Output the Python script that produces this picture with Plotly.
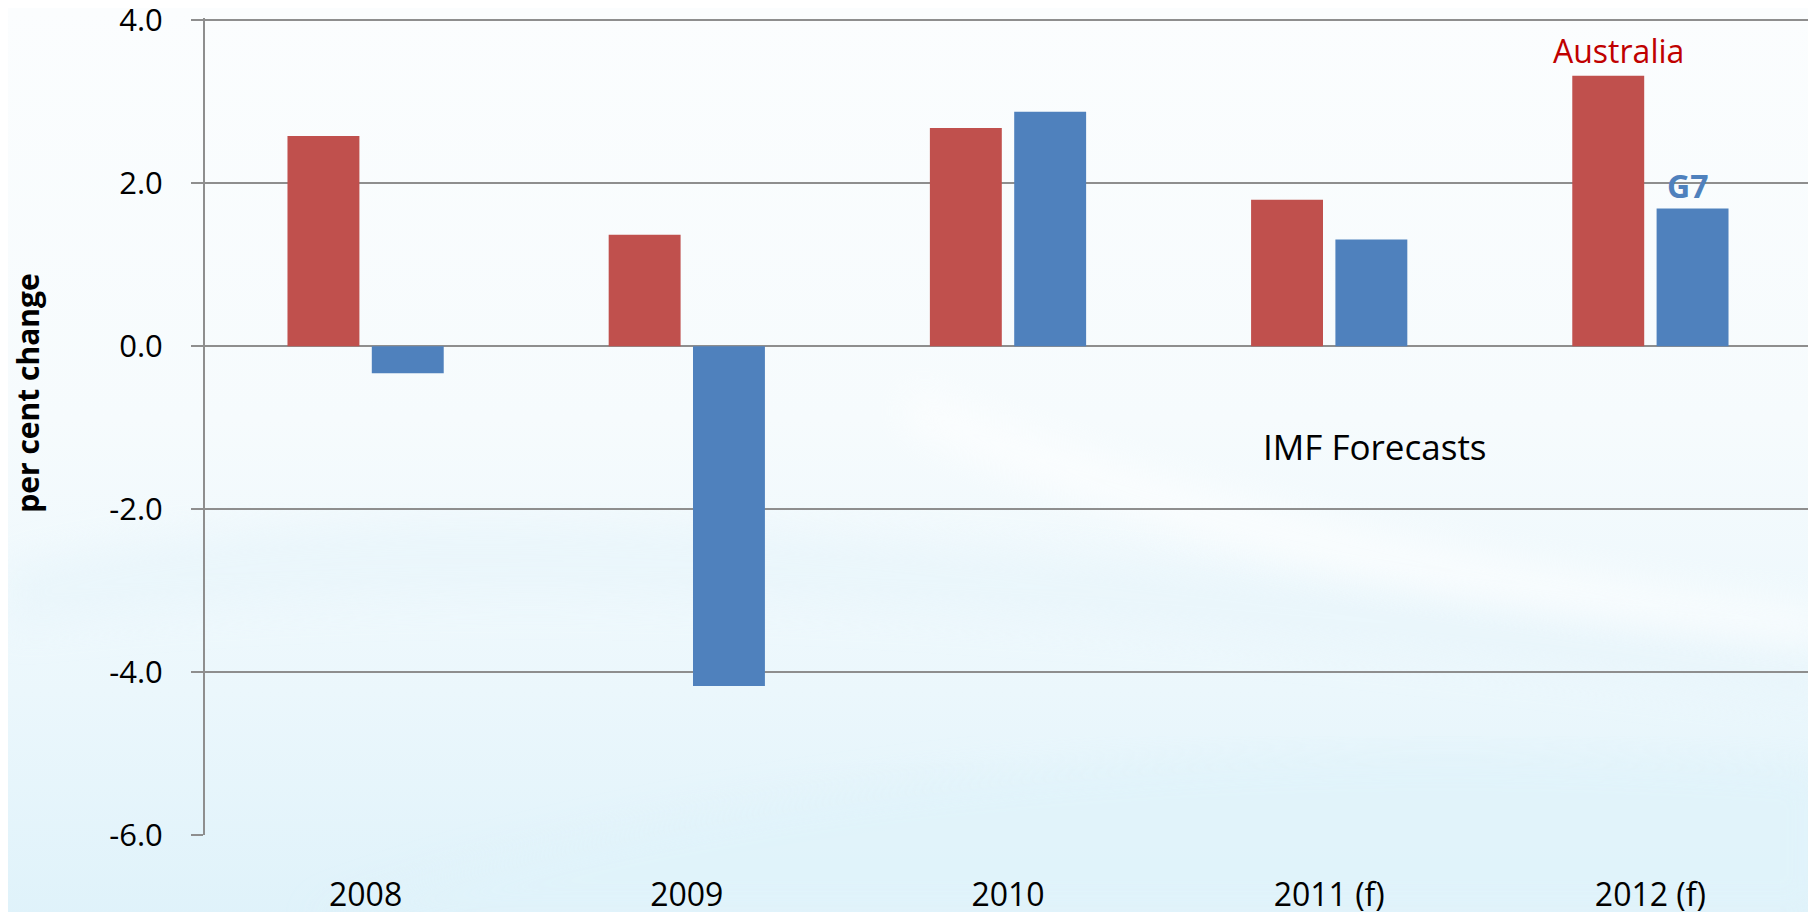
import plotly.graph_objects as go
import urllib.parse

# ---- data ----
years = ["2008", "2009", "2010", "2011 (f)", "2012 (f)"]
australia = [2.58, 1.37, 2.68, 1.80, 3.32]
g7 = [-0.33, -4.17, 2.88, 1.31, 1.69]
y_ticks = [-6, -4, -2, 0, 2, 4]
y_tick_text = ["-6.0", "-4.0", "-2.0", "0.0", "2.0", "4.0"]
y_range = [-6, 4.03]

RED = "#C0504D"
BLUE = "#4F81BD"
GRID = "#8E8E8E"
FONT = "Open Sans"

# page body has an 8px margin: compensate so that y=-6 sits at 835.5px,
# y=4 at 20.5px and the plot spans x 205..1811 of the screenshot
OFF = 8
PX_PER_UNIT = (835.5 - 20.5) / 10
plot_top = 835.5 - (y_range[1] - y_range[0]) * PX_PER_UNIT
L, R, T, B = 205 - OFF, 1816 + OFF - 1811, plot_top - OFF, 912 + OFF - 835.5
PW, PH = 1816 - L - R, 912 - T - B

fig = go.Figure()
fig.add_trace(go.Bar(x=years, y=australia, name="Australia",
                     marker=dict(color=RED, line=dict(width=0))))
fig.add_trace(go.Bar(x=years, y=g7, name="G7",
                     marker=dict(color=BLUE, line=dict(width=0))))

# soft light-blue background as SVG gradient
svg = """<svg xmlns='http://www.w3.org/2000/svg' width='1816' height='912' viewBox='0 0 1816 912'>
<defs>
<linearGradient id='g' x1='0' y1='0' x2='0' y2='1'>
<stop offset='0' stop-color='#FBFDFE'/>
<stop offset='0.45' stop-color='#F6FBFD'/>
<stop offset='0.75' stop-color='#EBF7FC'/>
<stop offset='1' stop-color='#DFF2FA'/>
</linearGradient>
<filter id='b'><feGaussianBlur stdDeviation='18'/></filter>
</defs>
<rect width='1816' height='912' fill='url(#g)'/>
<path d='M0 560 C 400 470, 900 520, 1816 640 L1816 700 C 1100 600, 500 560, 0 620 Z' fill='#E8F5FB' opacity='0.7' filter='url(#b)'/>
<path d='M300 912 C 700 760, 1300 720, 1816 760 L1816 912 Z' fill='#E0F3FA' opacity='0.8' filter='url(#b)'/>
<path d='M900 380 C 1200 500, 1500 560, 1816 600 L1816 640 C 1450 600, 1150 540, 900 420 Z' fill='#FFFFFF' opacity='0.6' filter='url(#b)'/>
</svg>"""
src = "data:image/svg+xml;charset=utf-8," + urllib.parse.quote(svg)

zero_pos = (0 - y_range[0]) / (y_range[1] - y_range[0])


def px(x):  # screenshot x pixel -> paper fraction
    return (x - 205) / PW


def py(y):  # screenshot y pixel -> paper fraction
    return (835.5 - y) / PH


fig.update_layout(
    width=1816, height=912,
    margin=dict(l=L, r=R, t=T, b=B, autoexpand=False),
    paper_bgcolor="#F7FBFD",
    plot_bgcolor="rgba(0,0,0,0)",
    showlegend=False,
    barmode="group",
    bargap=0.475,
    bargroupgap=0.147,
    font=dict(family=FONT, size=32, color="#000000"),
    images=[dict(source=src, xref="paper", yref="paper", x=-L / PW, y=1 + T / PH,
                 sizex=1816 / PW, sizey=912 / PH, xanchor="left", yanchor="top",
                 sizing="stretch", layer="below")],
    xaxis=dict(type="category", range=[-0.5, 4.5], showgrid=False, showline=False,
               zeroline=False, ticks="", ticklabelstandoff=38,
               tickfont=dict(family=FONT, size=32, color="#000")),
    xaxis2=dict(overlaying="x", type="linear", range=[-0.5, 4.5], anchor="free",
                position=zero_pos, side="bottom", showgrid=False, showline=False,
                zeroline=False, ticks="outside", ticklen=11, tickwidth=2, tickcolor=GRID,
                tickvals=[0.5, 1.5, 2.5, 3.5], showticklabels=False),
    yaxis=dict(range=y_range, tickvals=y_ticks, ticktext=y_tick_text,
               showgrid=True, gridcolor=GRID, gridwidth=2,
               zeroline=False, showline=True, linecolor=GRID, linewidth=2,
               ticks="outside", ticklen=12, tickwidth=2, tickcolor=GRID,
               ticklabelstandoff=22, ticklabeloverflow="allow",
               tickfont=dict(family=FONT, size=31, color="#000")),
    annotations=[
        dict(text="<b>per cent change</b>", textangle=-90, xref="paper", yref="paper",
             x=px(28), y=py(394), xanchor="center", yanchor="middle", showarrow=False,
             font=dict(family=FONT, size=30, color="#000")),
        dict(text="Australia", x=years[4], y=australia[4], xref="x", yref="y",
             xshift=-32, yshift=2, xanchor="center", yanchor="bottom", showarrow=False,
             font=dict(family=FONT, size=32, color="#C00000")),
        dict(text="<b>G7</b>", x=years[4], y=g7[4], xref="x", yref="y",
             xshift=37, yshift=0, xanchor="center", yanchor="bottom", showarrow=False,
             font=dict(family=FONT, size=32, color=BLUE)),
        dict(text="IMF Forecasts", xref="paper", yref="paper",
             x=px(1375), y=py(447), xanchor="center", yanchor="middle", showarrow=False,
             font=dict(family=FONT, size=35, color="#000")),
    ],
)

fig.write_html("out.html")
